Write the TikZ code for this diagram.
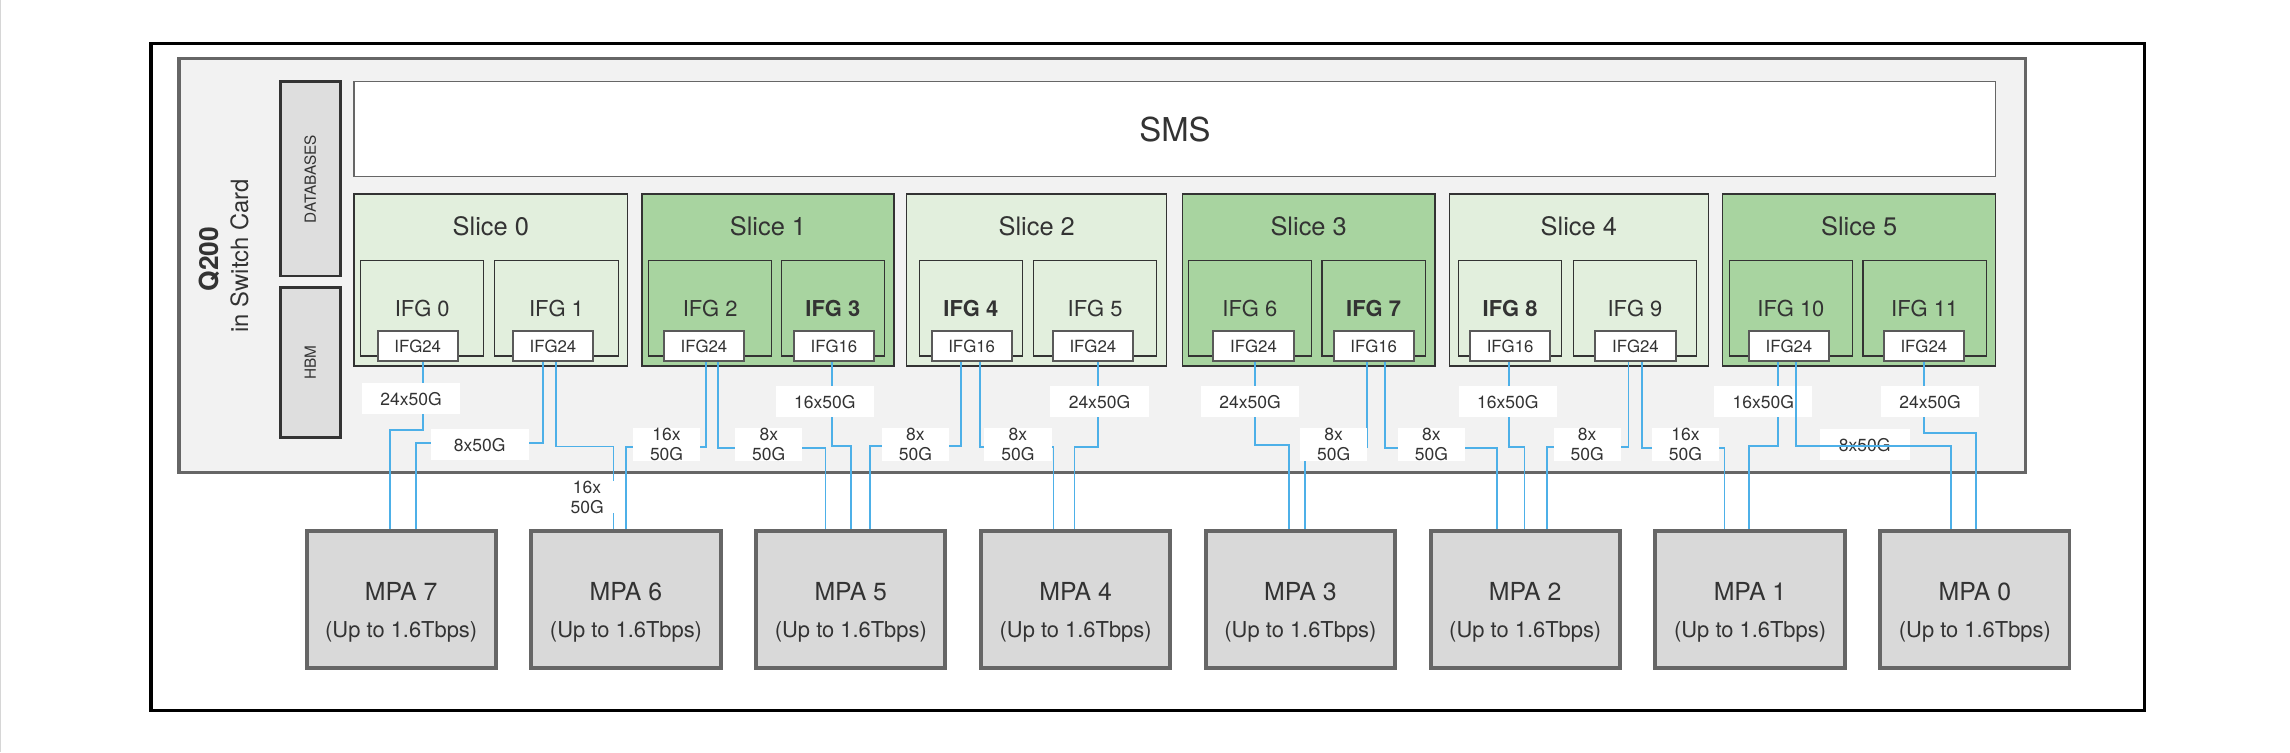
\documentclass[tikz,border=0pt]{standalone}
\usepackage{fontspec}
\setmainfont{TeX Gyre Heros}
\usepackage{tikz}
\usetikzlibrary{positioning}

\definecolor{txtgray}{HTML}{333333}
\definecolor{cardfill}{HTML}{F2F2F2}
\definecolor{cardline}{HTML}{666666}
\definecolor{boxline}{HTML}{333333}
\definecolor{portline}{HTML}{595959}
\definecolor{memfill}{HTML}{DEDEDE}
\definecolor{mpafill}{HTML}{D9D9D9}
\definecolor{slicelight}{HTML}{E2EFDD}
\definecolor{slicedark}{HTML}{A8D4A0}
\definecolor{linkblue}{HTML}{4DB0E8}
\definecolor{edgegray}{HTML}{D6D6D6}

\newcommand{\uptorate}{{\fontsize{15}{25}\selectfont (Up to 1.6Tbps)}}

\begin{document}
\begin{tikzpicture}[x=1pt,y=-1pt,
  every node/.style={text=txtgray},
  memblk/.style={draw=boxline,line width=2pt,fill=memfill,rotate=90,minimum height=41pt,inner sep=0pt,font=\fontsize{10.5}{12}\selectfont},
  slicelt/.style={draw=boxline,line width=0.8pt,fill=slicelight,minimum height=117.8pt,inner sep=0pt},
  slicedk/.style={slicelt,fill=slicedark},
  slicettl/.style={inner sep=0pt,font=\fontsize{17.4}{20}\selectfont},
  ifg/.style={draw=boxline,line width=0.8pt,minimum height=65.4pt,minimum width=84.4pt,inner sep=0pt,font=\fontsize{15}{18}\selectfont},
  ifgn/.style={ifg,minimum width=70.7pt,font=\fontsize{15}{18}\selectfont\bfseries},
  port/.style={draw=portline,line width=1.4pt,fill=white,minimum width=54.9pt,minimum height=20.9pt,inner sep=0pt,font=\fontsize{11.5}{13}\selectfont},
  mpa/.style={draw=cardline,line width=2.7pt,fill=mpafill,minimum width=129.6pt,minimum height=93.7pt,inner sep=0pt},
  mpatxt/.style={align=center,inner sep=0pt,yshift=-8.5pt,font=\fontsize{17}{25}\selectfont},
  link/.style={draw=linkblue,line width=1.2pt},
  rate/.style={fill=white,inner sep=0pt,align=center,minimum height=21.4pt,minimum width=67.3pt,font=\fontsize{12}{13.7}\selectfont},
  rate2/.style={rate,minimum width=46pt}
]
\useasboundingbox (0,0) rectangle (1568,515);
\draw[edgegray,line width=0.8pt] (0.4,0) -- (0.4,515);

% switch card and outer frame
\draw[black,line width=2.4pt] (103.4,29.7) rectangle (1468.3,486.4);
\draw[cardline,fill=cardfill,line width=2.3pt] (122.5,40) rectangle (1386.8,323.4);
\node[rotate=90,inner sep=0pt,font=\fontsize{18}{20}\selectfont\bfseries] (q200) at (143,177.5) {Q200};
\node[rotate=90,inner sep=0pt,font=\fontsize{16.3}{18}\selectfont] (card) at (164,175) {in Switch Card};

% memories
\node[memblk,minimum width=133pt] (db) at (212.5,122.5) {DATABASES};
\node[memblk,minimum width=102.6pt] (hbm) at (212.5,248.3) {HBM};
\node[draw=cardline,line width=0.8pt,fill=white,minimum width=1124.2pt,minimum height=65.1pt,inner sep=0pt,font=\fontsize{22.5}{26}\selectfont] (sms) at (804.5,88.4) {SMS};

% slices
\node[slicelt,minimum width=187.4pt] (s0) at (336.1,191.7) {};
\node[slicedk,minimum width=172.5pt] (s1) at (525.85,191.7) {};
\node[slicelt,minimum width=178.1pt] (s2) at (709.85,191.7) {};
\node[slicedk,minimum width=173.1pt] (s3) at (896.05,191.7) {};
\node[slicelt,minimum width=177.1pt] (s4) at (1081.05,191.7) {};
\node[slicedk,minimum width=187.2pt] (s5) at (1273,191.7) {};
\node[slicettl,below=15.7pt of s0.north] (t0) {Slice 0};
\node[slicettl,below=15.7pt of s1.north] (t1) {Slice 1};
\node[slicettl,below=15.7pt of s2.north] (t2) {Slice 2};
\node[slicettl,below=15.7pt of s3.north] (t3) {Slice 3};
\node[slicettl,below=15.7pt of s4.north] (t4) {Slice 4};
\node[slicettl,below=15.7pt of s5.north] (t5) {Slice 5};

% interface groups
\node[ifg] (g0) at (289.1,211.1) {IFG 0};
\node[ifg] (g1) at (381.05,211.1) {IFG 1};
\node[ifg] (g2) at (486.25,211.1) {IFG 2};
\node[ifgn] (g3) at (570.25,211.1) {IFG 3};
\node[ifgn] (g4) at (664.75,211.1) {IFG 4};
\node[ifg] (g5) at (749.85,211.1) {IFG 5};
\node[ifg] (g6) at (855.75,211.1) {IFG 6};
\node[ifgn] (g7) at (940.5,211.1) {IFG 7};
\node[ifgn] (g8) at (1034,211.1) {IFG 8};
\node[ifg] (g9) at (1119.5,211.1) {IFG 9};
\node[ifg] (g10) at (1226.25,211.1) {IFG 10};
\node[ifg] (g11) at (1317.85,211.1) {IFG 11};

\node[port] (p0) at (286,236.85) {IFG24};
\node[port] (p1) at (378.6,236.85) {IFG24};
\node[port] (p2) at (482,236.85) {IFG24};
\node[port] (p3) at (571,236.85) {IFG16};
\node[port] (p4) at (665.3,236.85) {IFG16};
\node[port] (p5) at (748.3,236.85) {IFG24};
\node[port] (p6) at (858.3,236.85) {IFG24};
\node[port] (p7) at (940.6,236.85) {IFG16};
\node[port] (p8) at (1034,236.85) {IFG16};
\node[port] (p9) at (1119.8,236.85) {IFG24};
\node[port] (p10) at (1224.9,236.85) {IFG24};
\node[port] (p11) at (1317.3,236.85) {IFG24};

% media port adapters
\node[mpa,label={[mpatxt]center:{MPA 7\\\uptorate}}] (m7) at (274.7,410.6) {};
\node[mpa,label={[mpatxt]center:{MPA 6\\\uptorate}}] (m6) at (428.63,410.6) {};
\node[mpa,label={[mpatxt]center:{MPA 5\\\uptorate}}] (m5) at (582.56,410.6) {};
\node[mpa,label={[mpatxt]center:{MPA 4\\\uptorate}}] (m4) at (736.49,410.6) {};
\node[mpa,label={[mpatxt]center:{MPA 3\\\uptorate}}] (m3) at (890.42,410.6) {};
\node[mpa,label={[mpatxt]center:{MPA 2\\\uptorate}}] (m2) at (1044.35,410.6) {};
\node[mpa,label={[mpatxt]center:{MPA 1\\\uptorate}}] (m1) at (1198.28,410.6) {};
\node[mpa,label={[mpatxt]center:{MPA 0\\\uptorate}}] (m0) at (1352.21,410.6) {};

% serdes links
\draw[link] ([xshift=3.5pt]p0.south) -- ++(0,46.4) -| ([xshift=-7.7pt]m7.north);
\draw[link] ([xshift=-6.6pt]p1.south) -- ++(0,55.5) -| ([xshift=10.1pt]m7.north);
\draw[link] ([xshift=1.9pt]p1.south) -- ++(0,57.8) -| ([xshift=-8.6pt]m6.north);
\draw[link] ([xshift=1.6pt]p2.south) -- ++(0,58.3) -| (m6.north);
\draw[link] ([xshift=9.6pt]p2.south) -- ++(0,58.5) -| ([xshift=-17.4pt]m5.north);
\draw[link] ([xshift=-1.1pt]p3.south) -- ++(0,57.4) -| (m5.north);
\draw[link] ([xshift=-7.3pt]p4.south) -- ++(0,57.4) -| ([xshift=13pt]m5.north);
\draw[link] ([xshift=5.7pt]p4.south) -- ++(0,58.3) -| ([xshift=-15.1pt]m4.north);
\draw[link] ([xshift=3.5pt]p5.south) -- ++(0,58.3) -| ([xshift=-0.7pt]m4.north);
\draw[link] ([xshift=1pt]p6.south) -- ++(0,56.7) -| ([xshift=-7.6pt]m3.north);
\draw[link] ([xshift=-4.6pt]p7.south) -- ++(0,58) -| ([xshift=3.1pt]m3.north);
\draw[link] ([xshift=7.9pt]p7.south) -- ++(0,58.7) -| ([xshift=-19.5pt]m2.north);
\draw[link] ([xshift=-0.8pt]p8.south) -- ++(0,58) -| ([xshift=-0.5pt]m2.north);
\draw[link] ([xshift=-4.7pt]p9.south) -- ++(0,58) -| ([xshift=14.8pt]m2.north);
\draw[link] ([xshift=4.4pt]p9.south) -- ++(0,58.7) -| ([xshift=-17.5pt]m1.north);
\draw[link] ([xshift=-7.6pt]p10.south) -- ++(0,57.4) -| ([xshift=-0.9pt]m1.north);
\draw[link] ([xshift=0.3pt]p11.south) -- ++(0,48.7) -| ([xshift=1pt]m0.north);

% link widths
\node[rate] (r0) at (281.5,273.1) {24x50G};
\node[rate] (r3) at (564.7,275) {16x50G};
\node[rate] (r5) at (752.8,275) {24x50G};
\node[rate] (r6) at (856,275) {24x50G};
\node[rate] (r8) at (1032.4,275) {16x50G};
\node[rate] (r10) at (1207.3,275) {16x50G};
\node[rate] (r11) at (1321.5,275) {24x50G};
\node[rate] (w1) at (328.5,304.6) {8x50G};
\node[rate2] (w2) at (456.4,304.6) {16x\\50G};
\node[rate2] (w2b) at (526.4,304.6) {8x\\50G};
\node[rate2] (w4) at (626.8,304.6) {8x\\50G};
\node[rate2] (w4b) at (697,304.6) {8x\\50G};
\node[rate2] (w7) at (913.2,304.6) {8x\\50G};
\node[rate2] (w7b) at (980.1,304.6) {8x\\50G};
\node[rate2] (w9) at (1086.8,304.6) {8x\\50G};
\node[rate2] (w9b) at (1154,304.6) {16x\\50G};
\node[rate,minimum width=61.5pt] (w10) at (1276.8,304.6) {8x50G};
\node[rate2,minimum width=38pt] (w1b) at (402,340.3) {16x\\50G};

\draw[link] ([xshift=4.7pt]p10.south) -- ++(0,57.4) -| ([xshift=-16.2pt]m0.north);
\end{tikzpicture}
\end{document}
